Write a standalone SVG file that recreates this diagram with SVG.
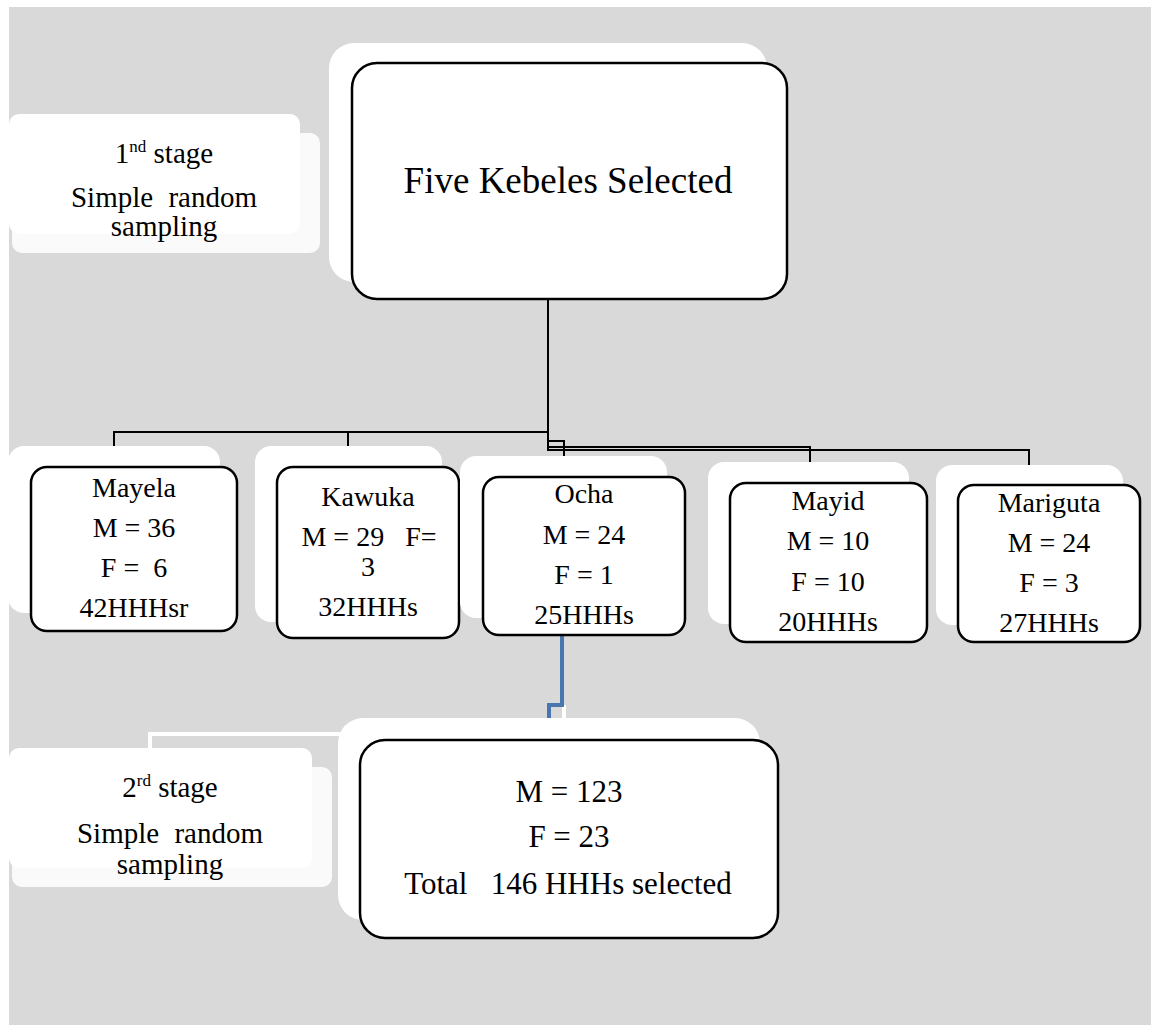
<svg xmlns="http://www.w3.org/2000/svg" width="1151" height="1025" viewBox="0 0 1151 1025">
<style>
text{font-family:"Liberation Serif","Times New Roman",serif;fill:#000;text-anchor:middle;white-space:pre}
.bk{fill:#fff}
.sh{fill:#fafafa}
.fr{fill:#fff;stroke:#000;stroke-width:2.5}
.n{font-size:28px}
.st{font-size:29px}
.sup{font-size:17px}
.ln{fill:none;stroke:#000;stroke-width:2}
</style>
<rect x="9" y="7" width="1142" height="1018" fill="#d9d9d9"/>
<g id="connectors">
<path class="ln" d="M548,299 V450 H1029 V465"/>
<path class="ln" d="M548,447 H810 V462"/>
<path class="ln" d="M548,432 H114 V446 M348,432 V446"/>
<path class="ln" d="M548,441 H564 V456"/>
<path fill="none" stroke="#fff" stroke-width="4" d="M564,705 V718"/>
<path fill="none" stroke="#4a76b0" stroke-width="4" d="M562,636 V705 H549 V718"/>
<path fill="none" stroke="#fff" stroke-width="4" d="M150,748 V734 H345"/>
</g>
<g id="stage1">
<rect class="sh" x="12" y="133" width="308" height="120" rx="10"/>
<rect class="bk" x="9" y="114" width="291" height="120" rx="10"/>
<text class="st" x="164" y="163">1<tspan class="sup" dy="-11">nd</tspan><tspan dy="11"> stage</tspan></text>
<text class="st" x="164" y="207" word-spacing="8">Simple random</text>
<text class="st" x="164" y="236">sampling</text>
</g>
<g id="kebeles">
<rect class="bk" x="329" y="43" width="438" height="239" rx="25"/>
<rect class="fr" x="352" y="63" width="435" height="236" rx="25"/>
<text x="568" y="193" font-size="37">Five Kebeles Selected</text>
</g>
<g id="mayela">
<rect class="bk" x="8" y="446" width="212" height="167" rx="16"/>
<rect class="fr" x="31" y="467" width="206" height="164" rx="16"/>
<text class="n" x="134" y="497">Mayela</text>
<text class="n" x="134" y="537">M = 36</text>
<text class="n" x="134" y="577">F =  6</text>
<text class="n" x="134" y="617">42HHHsr</text>
</g>
<g id="kawuka">
<rect class="bk" x="255" y="446" width="187" height="176" rx="16"/>
<rect class="fr" x="277" y="467" width="182" height="171" rx="16"/>
<text class="n" x="368" y="506">Kawuka</text>
<text class="n" x="369" y="546">M = 29   F=</text>
<text class="n" x="368" y="576">3</text>
<text class="n" x="368" y="616">32HHHs</text>
</g>
<g id="ocha">
<rect class="bk" x="460" y="456" width="207" height="162" rx="16"/>
<rect class="fr" x="483" y="477" width="202" height="158" rx="16"/>
<text class="n" x="584" y="503">Ocha</text>
<text class="n" x="584" y="544">M = 24</text>
<text class="n" x="584" y="584">F = 1</text>
<text class="n" x="584" y="624">25HHHs</text>
</g>
<g id="mayid">
<rect class="bk" x="708" y="462" width="201" height="162" rx="16"/>
<rect class="fr" x="730" y="483" width="197" height="159" rx="16"/>
<text class="n" x="828" y="510">Mayid</text>
<text class="n" x="828" y="550">M = 10</text>
<text class="n" x="828" y="591">F = 10</text>
<text class="n" x="828" y="631">20HHHs</text>
</g>
<g id="mariguta">
<rect class="bk" x="936" y="465" width="187" height="160" rx="16"/>
<rect class="fr" x="958" y="485" width="182" height="157" rx="16"/>
<text class="n" x="1049" y="512">Mariguta</text>
<text class="n" x="1049" y="552">M = 24</text>
<text class="n" x="1049" y="592">F = 3</text>
<text class="n" x="1049" y="632">27HHHs</text>
</g>
<g id="stage2">
<rect class="sh" x="12" y="767" width="320" height="120" rx="10"/>
<rect class="bk" x="9" y="748" width="303" height="120" rx="10"/>
<text class="st" x="170" y="797">2<tspan class="sup" dy="-11">rd</tspan><tspan dy="11"> stage</tspan></text>
<text class="st" x="170" y="843" word-spacing="8">Simple random</text>
<text class="st" x="170" y="874">sampling</text>
</g>
<g id="total">
<rect class="bk" x="338" y="718" width="422" height="202" rx="25"/>
<rect class="fr" x="360" y="740" width="418" height="198" rx="25"/>
<text x="569" y="802" font-size="31">M = 123</text>
<text x="569" y="847" font-size="31">F = 23</text>
<text x="568" y="894" font-size="31">Total   146 HHHs selected</text>
</g>
</svg>
